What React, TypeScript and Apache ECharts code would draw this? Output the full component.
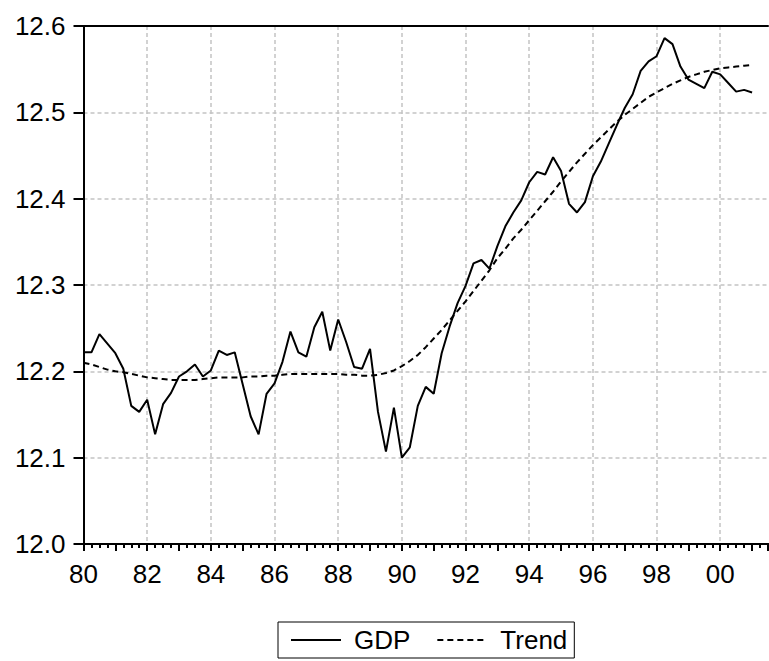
import React, { useEffect, useRef } from "react";
import * as echarts from "echarts";

const START_YEAR = 1980;
const gdp = [
  12.222, 12.222, 12.243, 12.232, 12.221, 12.203, 12.160, 12.153, 12.167, 12.127,
  12.162, 12.175, 12.194, 12.200, 12.208, 12.194, 12.201, 12.224, 12.219, 12.222,
  12.185, 12.148, 12.127, 12.174, 12.186, 12.211, 12.246, 12.222, 12.217, 12.251,
  12.269, 12.224, 12.260, 12.234, 12.205, 12.203, 12.226, 12.153, 12.107, 12.158,
  12.100, 12.112, 12.160, 12.182, 12.174, 12.221, 12.252, 12.279, 12.299, 12.325,
  12.329, 12.319, 12.345, 12.368, 12.384, 12.398, 12.419, 12.431, 12.428, 12.448,
  12.432, 12.394, 12.384, 12.396, 12.426, 12.443, 12.464, 12.485, 12.505, 12.521,
  12.548, 12.559, 12.565, 12.586, 12.579, 12.553, 12.538, 12.533, 12.528, 12.547,
  12.544, 12.534, 12.524, 12.526, 12.523,
];
const trend = [
  12.210, 12.208, 12.205, 12.202, 12.200, 12.199, 12.197, 12.195, 12.193, 12.192,
  12.191, 12.190, 12.190, 12.190, 12.190, 12.191, 12.192, 12.193, 12.193, 12.193,
  12.193, 12.194, 12.194, 12.195, 12.195, 12.196, 12.197, 12.197, 12.197, 12.197,
  12.197, 12.197, 12.197, 12.196, 12.196, 12.195, 12.195, 12.196, 12.198, 12.201,
  12.206, 12.212, 12.219, 12.228, 12.238, 12.248, 12.259, 12.270, 12.281, 12.293,
  12.305, 12.317, 12.331, 12.342, 12.354, 12.364, 12.375, 12.386, 12.397, 12.408,
  12.420, 12.431, 12.442, 12.452, 12.462, 12.471, 12.480, 12.489, 12.497, 12.504,
  12.511, 12.518, 12.523, 12.528, 12.533, 12.537, 12.541, 12.544, 12.547, 12.549,
  12.551, 12.552, 12.553, 12.554, 12.555,
];
const yTicks = [12.0, 12.1, 12.2, 12.3, 12.4, 12.5, 12.6];
const X_MAX_QUARTERS = 86;

const FONT = "'Liberation Sans', Arial, sans-serif";

export default function App() {
  const ref = useRef<HTMLDivElement>(null);
  useEffect(() => {
    if (!ref.current) return;
    const chart = echarts.init(ref.current, undefined, { renderer: "svg" });
    const commonX = { type: "value", min: 0, max: X_MAX_QUARTERS, gridIndex: 0 };
    const tickAxis = (interval: number, length: number) => ({
      ...commonX,
      position: "bottom",
      interval,
      axisLine: { show: true, lineStyle: { color: "#000", width: 2 } },
      axisTick: { show: true, inside: false, length, lineStyle: { color: "#000", width: 2 } },
      axisLabel: { show: false },
      splitLine: { show: false },
    });
    chart.setOption({
      animation: false,
      backgroundColor: "#fff",
      grid: { left: 83.5, right: 1, top: 26, bottom: 117, containLabel: false },
      legend: {
        left: 278,
        top: 622,
        orient: "horizontal",
        itemWidth: 50,
        itemHeight: 14,
        itemGap: 26,
        padding: [5, 7, 5, 12],
        borderColor: "#000",
        borderWidth: 1,
        itemStyle: { opacity: 0 },
        textStyle: { fontSize: 26, fontFamily: FONT, color: "#000", padding: [0, 0, 0, 8] },
        data: ["GDP", "Trend"],
      },
      xAxis: [
        {
          ...commonX,
          position: "bottom",
          interval: 8,
          axisLine: { show: true, lineStyle: { color: "#000", width: 2 } },
          axisTick: { show: false },
          axisLabel: {
            fontSize: 26,
            fontFamily: FONT,
            color: "#000",
            margin: 17,
            showMaxLabel: false,
            formatter: (v: number) => {
              if (v % 8 !== 0) return "";
              const y = (START_YEAR + v / 4) % 100;
              return String(y).padStart(2, "0");
            },
          },
          splitLine: {
            show: true,
            showMinLine: false,
            showMaxLine: false,
            lineStyle: { color: "#c4c4c4", type: [4, 3], width: 1.5 },
          },
        },
        tickAxis(4, 7),
        tickAxis(1, 4),
        {
          ...commonX,
          position: "top",
          axisLine: { show: true, lineStyle: { color: "#000", width: 2 } },
          axisTick: { show: false },
          axisLabel: { show: false },
          splitLine: { show: false },
        },
      ],
      yAxis: {
        type: "value",
        min: yTicks[0],
        max: yTicks[yTicks.length - 1],
        interval: 0.1,
        axisLine: { show: true, lineStyle: { color: "#000", width: 2 } },
        axisTick: { show: true, inside: false, length: 10, lineStyle: { color: "#000", width: 2 } },
        axisLabel: {
          fontSize: 26,
          fontFamily: FONT,
          color: "#000",
          margin: 18,
          formatter: (v: number) => v.toFixed(1),
        },
        splitLine: {
          show: true,
          showMinLine: false,
          showMaxLine: false,
          lineStyle: { color: "#c4c4c4", type: [4, 3], width: 1.5 },
        },
      },
      series: [
        {
          name: "GDP",
          type: "line",
          xAxisIndex: 0,
          symbol: "none",
          lineStyle: { color: "#000", width: 2 },
          itemStyle: { color: "#000" },
          data: gdp.map((v, i) => [i, v]),
        },
        {
          name: "Trend",
          type: "line",
          xAxisIndex: 0,
          symbol: "none",
          lineStyle: { color: "#000", width: 2, type: [6, 4] },
          itemStyle: { color: "#000" },
          data: trend.map((v, i) => [i, v]),
        },
      ],
    });
    return () => chart.dispose();
  }, []);
  return <div ref={ref} style={{ width: 769, height: 661, position: "absolute", left: 0, top: 0 }} />;
}
